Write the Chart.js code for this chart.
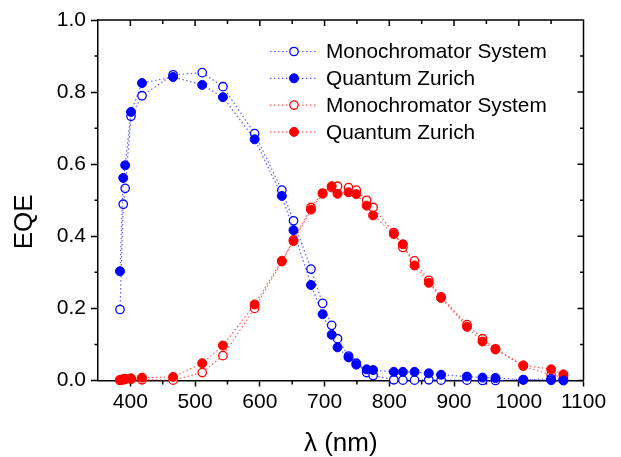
<!DOCTYPE html>
<html>
<head>
<meta charset="utf-8">
<script src="https://cdn.jsdelivr.net/npm/chart.js@4.4.0/dist/chart.umd.min.js"></script>
<style>
  body { margin: 0; background: #fff; }
  #wrap { width: 621px; height: 457px; }
</style>
</head>
<body>
<div id="wrap"><canvas id="eqeChart"></canvas></div>
<script>
// Wellenlängen (nm), gemeinsam für alle vier Messreihen
const wavelength = [384, 389, 392, 401, 418, 466, 511, 543, 592, 634, 652, 679, 697, 711, 720, 737, 749, 765, 775, 807, 821, 839, 861, 880, 920, 944, 964, 1007, 1050, 1069];

// EQE-Werte
const blueMono = [0.197, 0.489, 0.533, 0.733, 0.790, 0.848, 0.854, 0.815, 0.685, 0.528, 0.443, 0.309, 0.214, 0.153, 0.116, 0.068, 0.048, 0.022, 0.014, 0.002, 0.001, 0.001, 0.002, 0.001, 0.001, 0.000, 0.000, 0.002, 0.005, 0.003];
const blueQZ   = [0.303, 0.562, 0.597, 0.745, 0.825, 0.842, 0.820, 0.786, 0.669, 0.512, 0.417, 0.265, 0.184, 0.127, 0.092, 0.064, 0.044, 0.031, 0.029, 0.024, 0.024, 0.024, 0.020, 0.016, 0.011, 0.008, 0.007, 0.002, 0.001, 0.000];
const redMono  = [0.000, 0.002, 0.003, 0.003, 0.002, 0.001, 0.022, 0.069, 0.200, 0.330, 0.390, 0.480, 0.520, 0.535, 0.539, 0.535, 0.528, 0.500, 0.480, 0.410, 0.369, 0.332, 0.278, 0.232, 0.155, 0.116, 0.088, 0.040, 0.015, 0.010];
const redQZ    = [0.002, 0.004, 0.005, 0.006, 0.008, 0.010, 0.048, 0.097, 0.211, 0.332, 0.387, 0.474, 0.518, 0.539, 0.518, 0.522, 0.517, 0.485, 0.458, 0.406, 0.378, 0.319, 0.271, 0.229, 0.149, 0.108, 0.086, 0.042, 0.031, 0.017];

// Achsenteilung
const xMajor = [400, 500, 600, 700, 800, 900, 1000, 1100];
const xMinor = [450, 550, 650, 750, 850, 950, 1050];
const yMajor = [0, 0.2, 0.4, 0.6, 0.8, 1.0];
const yMinor = [0.1, 0.3, 0.5, 0.7, 0.9];

const FONT = '"Liberation Sans", Arial, sans-serif';

function toPoints(values) {
  return wavelength.map((w, i) => ({ x: w, y: values[i] }));
}

function makeSeries(label, values, color, lineColor, filled) {
  return {
    label: label,
    data: toPoints(values),
    showLine: true,
    borderColor: lineColor,
    borderWidth: 1.2,
    borderDash: [1.5, 2.5],
    tension: 0,
    pointRadius: filled ? 4.5 : 4.2,
    pointBorderWidth: filled ? 1 : 1.3,
    pointBorderColor: color,
    pointBackgroundColor: filled ? color : '#ffffff',
    order: filled ? 1 : 2,
    clip: false
  };
}

// Rahmen oben/rechts und Nebenstriche
const frameTicks = {
  id: 'frameTicks',
  beforeDatasetsDraw(chart) {
    const { ctx, chartArea: a, scales: { x, y } } = chart;
    ctx.save();
    ctx.strokeStyle = '#000';
    ctx.lineWidth = 1.5;
    ctx.beginPath();
    ctx.moveTo(a.left, a.top);
    ctx.lineTo(a.right, a.top);
    ctx.lineTo(a.right, a.bottom);
    xMajor.forEach(v => {
      const px = x.getPixelForValue(v);
      ctx.moveTo(px, a.top); ctx.lineTo(px, a.top + 6);
    });
    xMinor.forEach(v => {
      const px = x.getPixelForValue(v);
      ctx.moveTo(px, a.top); ctx.lineTo(px, a.top + 4);
      ctx.moveTo(px, a.bottom); ctx.lineTo(px, a.bottom + 4);
    });
    yMajor.forEach(v => {
      const py = y.getPixelForValue(v);
      ctx.moveTo(a.right, py); ctx.lineTo(a.right - 6, py);
    });
    yMinor.forEach(v => {
      const py = y.getPixelForValue(v);
      ctx.moveTo(a.left, py); ctx.lineTo(a.left - 3.5, py);
      ctx.moveTo(a.right, py); ctx.lineTo(a.right - 3.5, py);
    });
    ctx.stroke();
    ctx.restore();
  }
};

// Legende im Diagramm (Linie + Marker + Text)
const seriesLegend = {
  id: 'seriesLegend',
  afterDraw(chart) {
    const ctx = chart.ctx;
    ctx.save();
    ctx.font = '20.8px ' + FONT;
    ctx.textBaseline = 'middle';
    chart.data.datasets.forEach((ds, i) => {
      const yc = 51.5 + i * 26.8;
      ctx.strokeStyle = ds.borderColor;
      ctx.lineWidth = ds.borderWidth;
      ctx.setLineDash(ds.borderDash);
      ctx.beginPath();
      ctx.moveTo(270, yc);
      ctx.lineTo(318, yc);
      ctx.stroke();
      ctx.setLineDash([]);
      ctx.beginPath();
      ctx.arc(294, yc, ds.pointRadius, 0, Math.PI * 2);
      ctx.fillStyle = ds.pointBackgroundColor;
      ctx.fill();
      ctx.lineWidth = ds.pointBorderWidth;
      ctx.strokeStyle = ds.pointBorderColor;
      ctx.stroke();
      ctx.fillStyle = '#000';
      ctx.fillText(ds.label, 326, yc + 1);
    });
    ctx.restore();
  }
};

const ctx = document.getElementById('eqeChart').getContext('2d');
new Chart(ctx, {
  type: 'scatter',
  data: {
    datasets: [
      makeSeries('Monochromator System', blueMono, '#0000ff', 'rgba(40, 40, 255, 0.75)', false),
      makeSeries('Quantum Zurich', blueQZ, '#0000ff', 'rgba(40, 40, 255, 0.75)', true),
      makeSeries('Monochromator System', redMono, '#ff0000', 'rgba(255, 40, 40, 0.75)', false),
      makeSeries('Quantum Zurich', redQZ, '#ff0000', 'rgba(255, 40, 40, 0.75)', true)
    ]
  },
  options: {
    responsive: true,
    maintainAspectRatio: false,
    animation: false,
    layout: { padding: { top: 20, right: 37.5, left: 0, bottom: 0 } },
    scales: {
      x: {
        type: 'linear',
        min: 350,
        max: 1100,
        afterBuildTicks: s => { s.ticks = xMajor.map(v => ({ value: v })); },
        afterFit: s => { s.height = 76.5; },
        ticks: {
          color: '#000',
          font: { family: FONT, size: 21 },
          padding: 3,
          maxRotation: 0,
          autoSkip: false,
          callback: v => String(v)
        },
        grid: { drawOnChartArea: false, tickLength: 6, tickWidth: 1.5, tickColor: '#000' },
        border: { color: '#000', width: 1.5 },
        title: {
          display: true,
          text: 'λ (nm)',
          color: '#000',
          font: { family: FONT, size: 26, lineHeight: 1 },
          padding: { top: 0, bottom: 0 }
        }
      },
      y: {
        type: 'linear',
        min: 0,
        max: 1,
        afterBuildTicks: s => { s.ticks = yMajor.map(v => ({ value: v })); },
        afterFit: s => { s.width = 98; },
        ticks: {
          color: '#000',
          font: { family: FONT, size: 21 },
          padding: 5,
          callback: v => v.toFixed(1)
        },
        grid: { drawOnChartArea: false, tickLength: 7, tickWidth: 1.5, tickColor: '#000' },
        border: { color: '#000', width: 1.5 },
        title: {
          display: true,
          text: 'EQE      ',
          color: '#000',
          font: { family: FONT, size: 26, lineHeight: 1 },
          padding: { top: 12, bottom: 0 }
        }
      }
    },
    plugins: {
      legend: { display: false },
      tooltip: { enabled: false }
    }
  },
  plugins: [frameTicks, seriesLegend]
});
</script>
</body>
</html>
